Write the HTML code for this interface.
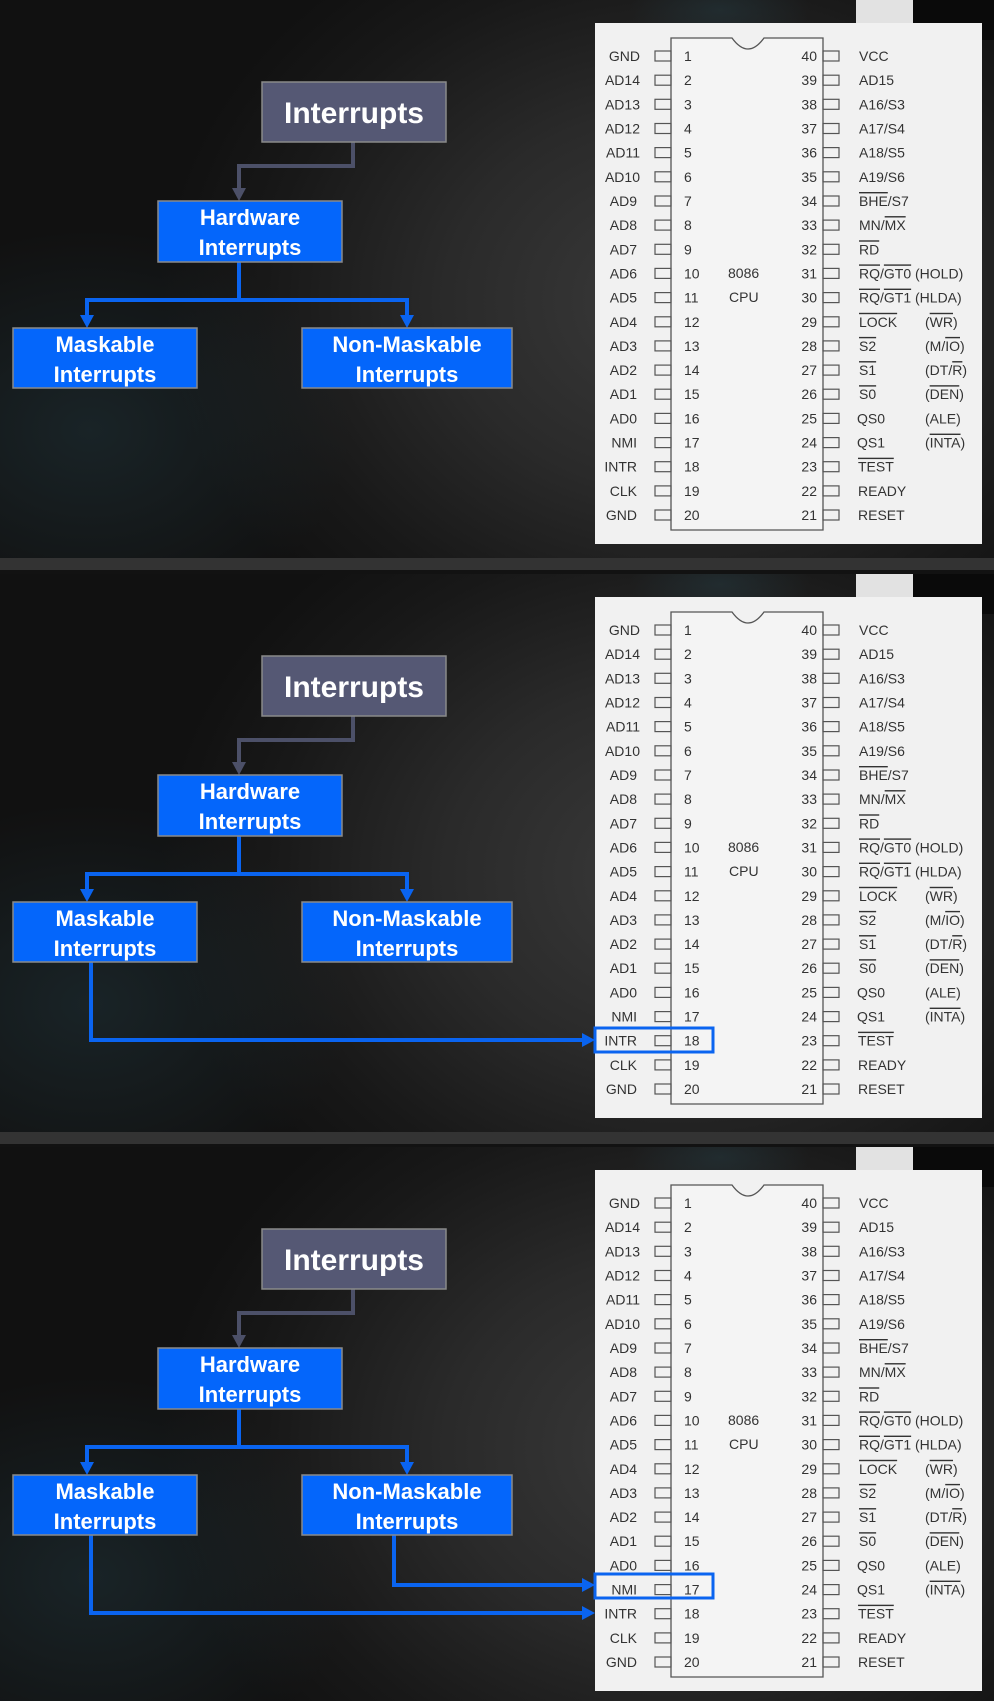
<!DOCTYPE html>
<html><head><meta charset="utf-8">
<style>
html,body{margin:0;padding:0;background:#111;}
#wrap{position:relative;width:994px;height:1701px;overflow:hidden;background:#0e0e0e;}
.p{position:absolute;left:0;width:994px;height:574px;
background:radial-gradient(ellipse 520px 420px at 680px 300px,#3a3a3a 0%,#2a2a2a 45%,#181818 80%,#111 100%);}
.p:before{content:"";position:absolute;left:0;top:0;width:994px;height:558px;
background:radial-gradient(ellipse 260px 200px at 90px 430px,rgba(40,70,80,.35),rgba(0,0,0,0) 100%),radial-gradient(ellipse 90px 40px at 720px 10px,rgba(40,70,80,.35),rgba(0,0,0,0));}
.sep{position:absolute;left:0;top:558px;width:994px;height:12px;background:#333;}
.sepb{position:absolute;left:0;top:570px;width:994px;height:4px;background:#121212;}
svg{position:absolute;left:0;top:0;}
.t{font-family:"Liberation Sans",Arial,sans-serif;font-size:14px;fill:#333;}
.b{font-family:"Liberation Sans",Arial,sans-serif;font-weight:bold;fill:#fff;text-anchor:middle;}
.o{text-decoration:overline;}
</style></head><body><div id="wrap">

<!-- PANEL 1 -->
<div class="p" style="top:0"><div class="sep"></div><div class="sepb"></div>
<svg width="994" height="574">
<rect x="913" y="0" width="81" height="40" fill="#0a0a0a"/>
<rect x="856" y="0" width="57" height="30" fill="#e2e2e2"/>
<rect x="595" y="23" width="387" height="521" fill="#f1f1f1"/>
<path d="M671 38 H732 Q748 60 764 38 H823 V530 H671 Z" fill="#f4f4f4" stroke="#555" stroke-width="1.3"/>
<g fill="none" stroke="#555" stroke-width="1.2">
<rect x="655" y="51" width="16" height="10"/><rect x="655" y="75.2" width="16" height="10"/><rect x="655" y="99.3" width="16" height="10"/><rect x="655" y="123.5" width="16" height="10"/><rect x="655" y="147.6" width="16" height="10"/><rect x="655" y="171.8" width="16" height="10"/><rect x="655" y="196" width="16" height="10"/><rect x="655" y="220.1" width="16" height="10"/><rect x="655" y="244.3" width="16" height="10"/><rect x="655" y="268.4" width="16" height="10"/><rect x="655" y="292.6" width="16" height="10"/><rect x="655" y="316.8" width="16" height="10"/><rect x="655" y="340.9" width="16" height="10"/><rect x="655" y="365.1" width="16" height="10"/><rect x="655" y="389.2" width="16" height="10"/><rect x="655" y="413.4" width="16" height="10"/><rect x="655" y="437.6" width="16" height="10"/><rect x="655" y="461.7" width="16" height="10"/><rect x="655" y="485.9" width="16" height="10"/><rect x="655" y="510" width="16" height="10"/>
<rect x="823" y="51" width="16" height="10"/><rect x="823" y="75.2" width="16" height="10"/><rect x="823" y="99.3" width="16" height="10"/><rect x="823" y="123.5" width="16" height="10"/><rect x="823" y="147.6" width="16" height="10"/><rect x="823" y="171.8" width="16" height="10"/><rect x="823" y="196" width="16" height="10"/><rect x="823" y="220.1" width="16" height="10"/><rect x="823" y="244.3" width="16" height="10"/><rect x="823" y="268.4" width="16" height="10"/><rect x="823" y="292.6" width="16" height="10"/><rect x="823" y="316.8" width="16" height="10"/><rect x="823" y="340.9" width="16" height="10"/><rect x="823" y="365.1" width="16" height="10"/><rect x="823" y="389.2" width="16" height="10"/><rect x="823" y="413.4" width="16" height="10"/><rect x="823" y="437.6" width="16" height="10"/><rect x="823" y="461.7" width="16" height="10"/><rect x="823" y="485.9" width="16" height="10"/><rect x="823" y="510" width="16" height="10"/>
</g>
<g class="t" text-anchor="end">
<text x="640" y="61">GND</text><text x="640" y="85.2">AD14</text><text x="640" y="109.3">AD13</text><text x="640" y="133.5">AD12</text><text x="640" y="157.6">AD11</text><text x="640" y="181.8">AD10</text><text x="637" y="206">AD9</text><text x="637" y="230.1">AD8</text><text x="637" y="254.3">AD7</text><text x="637" y="278.4">AD6</text><text x="637" y="302.6">AD5</text><text x="637" y="326.8">AD4</text><text x="637" y="350.9">AD3</text><text x="637" y="375.1">AD2</text><text x="637" y="399.2">AD1</text><text x="637" y="423.4">AD0</text><text x="637" y="447.6">NMI</text><text x="637" y="471.7">INTR</text><text x="637" y="495.9">CLK</text><text x="637" y="520">GND</text>
<text x="817" y="61">40</text><text x="817" y="85.2">39</text><text x="817" y="109.3">38</text><text x="817" y="133.5">37</text><text x="817" y="157.6">36</text><text x="817" y="181.8">35</text><text x="817" y="206">34</text><text x="817" y="230.1">33</text><text x="817" y="254.3">32</text><text x="817" y="278.4">31</text><text x="817" y="302.6">30</text><text x="817" y="326.8">29</text><text x="817" y="350.9">28</text><text x="817" y="375.1">27</text><text x="817" y="399.2">26</text><text x="817" y="423.4">25</text><text x="817" y="447.6">24</text><text x="817" y="471.7">23</text><text x="817" y="495.9">22</text><text x="817" y="520">21</text>
</g>
<g class="t">
<text x="684" y="61">1</text><text x="684" y="85.2">2</text><text x="684" y="109.3">3</text><text x="684" y="133.5">4</text><text x="684" y="157.6">5</text><text x="684" y="181.8">6</text><text x="684" y="206">7</text><text x="684" y="230.1">8</text><text x="684" y="254.3">9</text><text x="684" y="278.4">10</text><text x="684" y="302.6">11</text><text x="684" y="326.8">12</text><text x="684" y="350.9">13</text><text x="684" y="375.1">14</text><text x="684" y="399.2">15</text><text x="684" y="423.4">16</text><text x="684" y="447.6">17</text><text x="684" y="471.7">18</text><text x="684" y="495.9">19</text><text x="684" y="520">20</text>
<text x="728" y="278">8086</text><text x="729" y="302">CPU</text>
<text x="859" y="61">VCC</text><text x="859" y="85.2">AD15</text><text x="859" y="109.3">A16/S3</text><text x="859" y="133.5">A17/S4</text><text x="859" y="157.6">A18/S5</text><text x="859" y="181.8">A19/S6</text>
<text x="859" y="206"><tspan class="o">BHE</tspan>/S7</text><text x="859" y="230.1">MN/<tspan class="o">MX</tspan></text><text x="859" y="254.3"><tspan class="o">RD</tspan></text>
<text x="859" y="278.4"><tspan class="o">RQ</tspan>/<tspan class="o">GT0</tspan> (HOLD)</text><text x="859" y="302.6"><tspan class="o">RQ</tspan>/<tspan class="o">GT1</tspan> (HLDA)</text>
<text x="859" y="326.8"><tspan class="o">LOCK</tspan></text><text x="925" y="326.8">(<tspan class="o">WR</tspan>)</text>
<text x="859" y="350.9"><tspan class="o">S2</tspan></text><text x="925" y="350.9">(M/<tspan class="o">IO</tspan>)</text>
<text x="859" y="375.1"><tspan class="o">S1</tspan></text><text x="925" y="375.1">(DT/<tspan class="o">R</tspan>)</text>
<text x="859" y="399.2"><tspan class="o">S0</tspan></text><text x="925" y="399.2">(<tspan class="o">DEN</tspan>)</text>
<text x="857" y="423.4">QS0</text><text x="925" y="423.4">(ALE)</text>
<text x="857" y="447.6">QS1</text><text x="925" y="447.6">(<tspan class="o">INTA</tspan>)</text>
<text x="858" y="471.7"><tspan class="o">TEST</tspan></text><text x="858" y="495.9">READY</text><text x="858" y="520">RESET</text>
</g>
<!-- flowchart -->
<polyline points="353,142 353,166 239,166 239,190" fill="none" stroke="#4c5068" stroke-width="4"/>
<polygon points="232,188 246,188 239,201" fill="#4c5068"/>
<polyline points="239,262 239,300" fill="none" stroke="#0a64f0" stroke-width="4"/>
<polyline points="87,318 87,300 407,300 407,318" fill="none" stroke="#0a64f0" stroke-width="4"/>
<polygon points="80,315 94,315 87,328" fill="#0a64f0"/><polygon points="400,315 414,315 407,328" fill="#0a64f0"/>
<rect x="262" y="82" width="184" height="60" fill="#555874" stroke="#8a8a8a" stroke-width="1.5"/>
<text class="b" x="354" y="123" font-size="30">Interrupts</text>
<rect x="158" y="201" width="184" height="61" fill="#0466fb" stroke="#8a8a8a" stroke-width="1.5"/>
<text class="b" x="250" y="225" font-size="22">Hardware</text><text class="b" x="250" y="255" font-size="22">Interrupts</text>
<rect x="13" y="328" width="184" height="60" fill="#0466fb" stroke="#8a8a8a" stroke-width="1.5"/>
<text class="b" x="105" y="352" font-size="22">Maskable</text><text class="b" x="105" y="382" font-size="22">Interrupts</text>
<rect x="302" y="328" width="210" height="60" fill="#0466fb" stroke="#8a8a8a" stroke-width="1.5"/>
<text class="b" x="407" y="352" font-size="22">Non-Maskable</text><text class="b" x="407" y="382" font-size="22">Interrupts</text>
</svg></div>

<!-- PANEL 2 -->
<div class="p" style="top:574px"><div class="sep"></div><div class="sepb"></div>
<svg width="994" height="574">
<rect x="913" y="0" width="81" height="40" fill="#0a0a0a"/>
<rect x="856" y="0" width="57" height="30" fill="#e2e2e2"/>
<rect x="595" y="23" width="387" height="521" fill="#f1f1f1"/>
<path d="M671 38 H732 Q748 60 764 38 H823 V530 H671 Z" fill="#f4f4f4" stroke="#555" stroke-width="1.3"/>
<g fill="none" stroke="#555" stroke-width="1.2">
<rect x="655" y="51" width="16" height="10"/><rect x="655" y="75.2" width="16" height="10"/><rect x="655" y="99.3" width="16" height="10"/><rect x="655" y="123.5" width="16" height="10"/><rect x="655" y="147.6" width="16" height="10"/><rect x="655" y="171.8" width="16" height="10"/><rect x="655" y="196" width="16" height="10"/><rect x="655" y="220.1" width="16" height="10"/><rect x="655" y="244.3" width="16" height="10"/><rect x="655" y="268.4" width="16" height="10"/><rect x="655" y="292.6" width="16" height="10"/><rect x="655" y="316.8" width="16" height="10"/><rect x="655" y="340.9" width="16" height="10"/><rect x="655" y="365.1" width="16" height="10"/><rect x="655" y="389.2" width="16" height="10"/><rect x="655" y="413.4" width="16" height="10"/><rect x="655" y="437.6" width="16" height="10"/><rect x="655" y="461.7" width="16" height="10"/><rect x="655" y="485.9" width="16" height="10"/><rect x="655" y="510" width="16" height="10"/>
<rect x="823" y="51" width="16" height="10"/><rect x="823" y="75.2" width="16" height="10"/><rect x="823" y="99.3" width="16" height="10"/><rect x="823" y="123.5" width="16" height="10"/><rect x="823" y="147.6" width="16" height="10"/><rect x="823" y="171.8" width="16" height="10"/><rect x="823" y="196" width="16" height="10"/><rect x="823" y="220.1" width="16" height="10"/><rect x="823" y="244.3" width="16" height="10"/><rect x="823" y="268.4" width="16" height="10"/><rect x="823" y="292.6" width="16" height="10"/><rect x="823" y="316.8" width="16" height="10"/><rect x="823" y="340.9" width="16" height="10"/><rect x="823" y="365.1" width="16" height="10"/><rect x="823" y="389.2" width="16" height="10"/><rect x="823" y="413.4" width="16" height="10"/><rect x="823" y="437.6" width="16" height="10"/><rect x="823" y="461.7" width="16" height="10"/><rect x="823" y="485.9" width="16" height="10"/><rect x="823" y="510" width="16" height="10"/>
</g>
<g class="t" text-anchor="end">
<text x="640" y="61">GND</text><text x="640" y="85.2">AD14</text><text x="640" y="109.3">AD13</text><text x="640" y="133.5">AD12</text><text x="640" y="157.6">AD11</text><text x="640" y="181.8">AD10</text><text x="637" y="206">AD9</text><text x="637" y="230.1">AD8</text><text x="637" y="254.3">AD7</text><text x="637" y="278.4">AD6</text><text x="637" y="302.6">AD5</text><text x="637" y="326.8">AD4</text><text x="637" y="350.9">AD3</text><text x="637" y="375.1">AD2</text><text x="637" y="399.2">AD1</text><text x="637" y="423.4">AD0</text><text x="637" y="447.6">NMI</text><text x="637" y="471.7">INTR</text><text x="637" y="495.9">CLK</text><text x="637" y="520">GND</text>
<text x="817" y="61">40</text><text x="817" y="85.2">39</text><text x="817" y="109.3">38</text><text x="817" y="133.5">37</text><text x="817" y="157.6">36</text><text x="817" y="181.8">35</text><text x="817" y="206">34</text><text x="817" y="230.1">33</text><text x="817" y="254.3">32</text><text x="817" y="278.4">31</text><text x="817" y="302.6">30</text><text x="817" y="326.8">29</text><text x="817" y="350.9">28</text><text x="817" y="375.1">27</text><text x="817" y="399.2">26</text><text x="817" y="423.4">25</text><text x="817" y="447.6">24</text><text x="817" y="471.7">23</text><text x="817" y="495.9">22</text><text x="817" y="520">21</text>
</g>
<g class="t">
<text x="684" y="61">1</text><text x="684" y="85.2">2</text><text x="684" y="109.3">3</text><text x="684" y="133.5">4</text><text x="684" y="157.6">5</text><text x="684" y="181.8">6</text><text x="684" y="206">7</text><text x="684" y="230.1">8</text><text x="684" y="254.3">9</text><text x="684" y="278.4">10</text><text x="684" y="302.6">11</text><text x="684" y="326.8">12</text><text x="684" y="350.9">13</text><text x="684" y="375.1">14</text><text x="684" y="399.2">15</text><text x="684" y="423.4">16</text><text x="684" y="447.6">17</text><text x="684" y="471.7">18</text><text x="684" y="495.9">19</text><text x="684" y="520">20</text>
<text x="728" y="278">8086</text><text x="729" y="302">CPU</text>
<text x="859" y="61">VCC</text><text x="859" y="85.2">AD15</text><text x="859" y="109.3">A16/S3</text><text x="859" y="133.5">A17/S4</text><text x="859" y="157.6">A18/S5</text><text x="859" y="181.8">A19/S6</text>
<text x="859" y="206"><tspan class="o">BHE</tspan>/S7</text><text x="859" y="230.1">MN/<tspan class="o">MX</tspan></text><text x="859" y="254.3"><tspan class="o">RD</tspan></text>
<text x="859" y="278.4"><tspan class="o">RQ</tspan>/<tspan class="o">GT0</tspan> (HOLD)</text><text x="859" y="302.6"><tspan class="o">RQ</tspan>/<tspan class="o">GT1</tspan> (HLDA)</text>
<text x="859" y="326.8"><tspan class="o">LOCK</tspan></text><text x="925" y="326.8">(<tspan class="o">WR</tspan>)</text>
<text x="859" y="350.9"><tspan class="o">S2</tspan></text><text x="925" y="350.9">(M/<tspan class="o">IO</tspan>)</text>
<text x="859" y="375.1"><tspan class="o">S1</tspan></text><text x="925" y="375.1">(DT/<tspan class="o">R</tspan>)</text>
<text x="859" y="399.2"><tspan class="o">S0</tspan></text><text x="925" y="399.2">(<tspan class="o">DEN</tspan>)</text>
<text x="857" y="423.4">QS0</text><text x="925" y="423.4">(ALE)</text>
<text x="857" y="447.6">QS1</text><text x="925" y="447.6">(<tspan class="o">INTA</tspan>)</text>
<text x="858" y="471.7"><tspan class="o">TEST</tspan></text><text x="858" y="495.9">READY</text><text x="858" y="520">RESET</text>
</g>
<polyline points="353,142 353,166 239,166 239,190" fill="none" stroke="#4c5068" stroke-width="4"/>
<polygon points="232,188 246,188 239,201" fill="#4c5068"/>
<polyline points="239,262 239,300" fill="none" stroke="#0a64f0" stroke-width="4"/>
<polyline points="87,318 87,300 407,300 407,318" fill="none" stroke="#0a64f0" stroke-width="4"/>
<polygon points="80,315 94,315 87,328" fill="#0a64f0"/><polygon points="400,315 414,315 407,328" fill="#0a64f0"/>
<polyline points="91,388 91,466 584,466" fill="none" stroke="#0a64f0" stroke-width="4"/>
<polygon points="582,459 582,473 595,466" fill="#0a64f0"/>
<rect x="595" y="454" width="118" height="24" fill="none" stroke="#0a64f0" stroke-width="3"/>
<rect x="262" y="82" width="184" height="60" fill="#555874" stroke="#8a8a8a" stroke-width="1.5"/>
<text class="b" x="354" y="123" font-size="30">Interrupts</text>
<rect x="158" y="201" width="184" height="61" fill="#0466fb" stroke="#8a8a8a" stroke-width="1.5"/>
<text class="b" x="250" y="225" font-size="22">Hardware</text><text class="b" x="250" y="255" font-size="22">Interrupts</text>
<rect x="13" y="328" width="184" height="60" fill="#0466fb" stroke="#8a8a8a" stroke-width="1.5"/>
<text class="b" x="105" y="352" font-size="22">Maskable</text><text class="b" x="105" y="382" font-size="22">Interrupts</text>
<rect x="302" y="328" width="210" height="60" fill="#0466fb" stroke="#8a8a8a" stroke-width="1.5"/>
<text class="b" x="407" y="352" font-size="22">Non-Maskable</text><text class="b" x="407" y="382" font-size="22">Interrupts</text>
</svg></div>

<!-- PANEL 3 -->
<div class="p" style="top:1147px"><div class="sep" style="display:none"></div>
<svg width="994" height="574">
<rect x="913" y="0" width="81" height="40" fill="#0a0a0a"/>
<rect x="856" y="0" width="57" height="30" fill="#e2e2e2"/>
<rect x="595" y="23" width="387" height="521" fill="#f1f1f1"/>
<path d="M671 38 H732 Q748 60 764 38 H823 V530 H671 Z" fill="#f4f4f4" stroke="#555" stroke-width="1.3"/>
<g fill="none" stroke="#555" stroke-width="1.2">
<rect x="655" y="51" width="16" height="10"/><rect x="655" y="75.2" width="16" height="10"/><rect x="655" y="99.3" width="16" height="10"/><rect x="655" y="123.5" width="16" height="10"/><rect x="655" y="147.6" width="16" height="10"/><rect x="655" y="171.8" width="16" height="10"/><rect x="655" y="196" width="16" height="10"/><rect x="655" y="220.1" width="16" height="10"/><rect x="655" y="244.3" width="16" height="10"/><rect x="655" y="268.4" width="16" height="10"/><rect x="655" y="292.6" width="16" height="10"/><rect x="655" y="316.8" width="16" height="10"/><rect x="655" y="340.9" width="16" height="10"/><rect x="655" y="365.1" width="16" height="10"/><rect x="655" y="389.2" width="16" height="10"/><rect x="655" y="413.4" width="16" height="10"/><rect x="655" y="437.6" width="16" height="10"/><rect x="655" y="461.7" width="16" height="10"/><rect x="655" y="485.9" width="16" height="10"/><rect x="655" y="510" width="16" height="10"/>
<rect x="823" y="51" width="16" height="10"/><rect x="823" y="75.2" width="16" height="10"/><rect x="823" y="99.3" width="16" height="10"/><rect x="823" y="123.5" width="16" height="10"/><rect x="823" y="147.6" width="16" height="10"/><rect x="823" y="171.8" width="16" height="10"/><rect x="823" y="196" width="16" height="10"/><rect x="823" y="220.1" width="16" height="10"/><rect x="823" y="244.3" width="16" height="10"/><rect x="823" y="268.4" width="16" height="10"/><rect x="823" y="292.6" width="16" height="10"/><rect x="823" y="316.8" width="16" height="10"/><rect x="823" y="340.9" width="16" height="10"/><rect x="823" y="365.1" width="16" height="10"/><rect x="823" y="389.2" width="16" height="10"/><rect x="823" y="413.4" width="16" height="10"/><rect x="823" y="437.6" width="16" height="10"/><rect x="823" y="461.7" width="16" height="10"/><rect x="823" y="485.9" width="16" height="10"/><rect x="823" y="510" width="16" height="10"/>
</g>
<g class="t" text-anchor="end">
<text x="640" y="61">GND</text><text x="640" y="85.2">AD14</text><text x="640" y="109.3">AD13</text><text x="640" y="133.5">AD12</text><text x="640" y="157.6">AD11</text><text x="640" y="181.8">AD10</text><text x="637" y="206">AD9</text><text x="637" y="230.1">AD8</text><text x="637" y="254.3">AD7</text><text x="637" y="278.4">AD6</text><text x="637" y="302.6">AD5</text><text x="637" y="326.8">AD4</text><text x="637" y="350.9">AD3</text><text x="637" y="375.1">AD2</text><text x="637" y="399.2">AD1</text><text x="637" y="423.4">AD0</text><text x="637" y="447.6">NMI</text><text x="637" y="471.7">INTR</text><text x="637" y="495.9">CLK</text><text x="637" y="520">GND</text>
<text x="817" y="61">40</text><text x="817" y="85.2">39</text><text x="817" y="109.3">38</text><text x="817" y="133.5">37</text><text x="817" y="157.6">36</text><text x="817" y="181.8">35</text><text x="817" y="206">34</text><text x="817" y="230.1">33</text><text x="817" y="254.3">32</text><text x="817" y="278.4">31</text><text x="817" y="302.6">30</text><text x="817" y="326.8">29</text><text x="817" y="350.9">28</text><text x="817" y="375.1">27</text><text x="817" y="399.2">26</text><text x="817" y="423.4">25</text><text x="817" y="447.6">24</text><text x="817" y="471.7">23</text><text x="817" y="495.9">22</text><text x="817" y="520">21</text>
</g>
<g class="t">
<text x="684" y="61">1</text><text x="684" y="85.2">2</text><text x="684" y="109.3">3</text><text x="684" y="133.5">4</text><text x="684" y="157.6">5</text><text x="684" y="181.8">6</text><text x="684" y="206">7</text><text x="684" y="230.1">8</text><text x="684" y="254.3">9</text><text x="684" y="278.4">10</text><text x="684" y="302.6">11</text><text x="684" y="326.8">12</text><text x="684" y="350.9">13</text><text x="684" y="375.1">14</text><text x="684" y="399.2">15</text><text x="684" y="423.4">16</text><text x="684" y="447.6">17</text><text x="684" y="471.7">18</text><text x="684" y="495.9">19</text><text x="684" y="520">20</text>
<text x="728" y="278">8086</text><text x="729" y="302">CPU</text>
<text x="859" y="61">VCC</text><text x="859" y="85.2">AD15</text><text x="859" y="109.3">A16/S3</text><text x="859" y="133.5">A17/S4</text><text x="859" y="157.6">A18/S5</text><text x="859" y="181.8">A19/S6</text>
<text x="859" y="206"><tspan class="o">BHE</tspan>/S7</text><text x="859" y="230.1">MN/<tspan class="o">MX</tspan></text><text x="859" y="254.3"><tspan class="o">RD</tspan></text>
<text x="859" y="278.4"><tspan class="o">RQ</tspan>/<tspan class="o">GT0</tspan> (HOLD)</text><text x="859" y="302.6"><tspan class="o">RQ</tspan>/<tspan class="o">GT1</tspan> (HLDA)</text>
<text x="859" y="326.8"><tspan class="o">LOCK</tspan></text><text x="925" y="326.8">(<tspan class="o">WR</tspan>)</text>
<text x="859" y="350.9"><tspan class="o">S2</tspan></text><text x="925" y="350.9">(M/<tspan class="o">IO</tspan>)</text>
<text x="859" y="375.1"><tspan class="o">S1</tspan></text><text x="925" y="375.1">(DT/<tspan class="o">R</tspan>)</text>
<text x="859" y="399.2"><tspan class="o">S0</tspan></text><text x="925" y="399.2">(<tspan class="o">DEN</tspan>)</text>
<text x="857" y="423.4">QS0</text><text x="925" y="423.4">(ALE)</text>
<text x="857" y="447.6">QS1</text><text x="925" y="447.6">(<tspan class="o">INTA</tspan>)</text>
<text x="858" y="471.7"><tspan class="o">TEST</tspan></text><text x="858" y="495.9">READY</text><text x="858" y="520">RESET</text>
</g>
<polyline points="353,142 353,166 239,166 239,190" fill="none" stroke="#4c5068" stroke-width="4"/>
<polygon points="232,188 246,188 239,201" fill="#4c5068"/>
<polyline points="239,262 239,300" fill="none" stroke="#0a64f0" stroke-width="4"/>
<polyline points="87,318 87,300 407,300 407,318" fill="none" stroke="#0a64f0" stroke-width="4"/>
<polygon points="80,315 94,315 87,328" fill="#0a64f0"/><polygon points="400,315 414,315 407,328" fill="#0a64f0"/>
<polyline points="91,388 91,466 584,466" fill="none" stroke="#0a64f0" stroke-width="4"/>
<polygon points="582,459 582,473 595,466" fill="#0a64f0"/>
<polyline points="394,388 394,438 584,438" fill="none" stroke="#0a64f0" stroke-width="4"/>
<polygon points="582,431 582,445 595,438" fill="#0a64f0"/>
<rect x="595" y="427" width="118" height="24" fill="none" stroke="#0a64f0" stroke-width="3"/>
<rect x="262" y="82" width="184" height="60" fill="#555874" stroke="#8a8a8a" stroke-width="1.5"/>
<text class="b" x="354" y="123" font-size="30">Interrupts</text>
<rect x="158" y="201" width="184" height="61" fill="#0466fb" stroke="#8a8a8a" stroke-width="1.5"/>
<text class="b" x="250" y="225" font-size="22">Hardware</text><text class="b" x="250" y="255" font-size="22">Interrupts</text>
<rect x="13" y="328" width="184" height="60" fill="#0466fb" stroke="#8a8a8a" stroke-width="1.5"/>
<text class="b" x="105" y="352" font-size="22">Maskable</text><text class="b" x="105" y="382" font-size="22">Interrupts</text>
<rect x="302" y="328" width="210" height="60" fill="#0466fb" stroke="#8a8a8a" stroke-width="1.5"/>
<text class="b" x="407" y="352" font-size="22">Non-Maskable</text><text class="b" x="407" y="382" font-size="22">Interrupts</text>
</svg></div>

</div></body></html>
